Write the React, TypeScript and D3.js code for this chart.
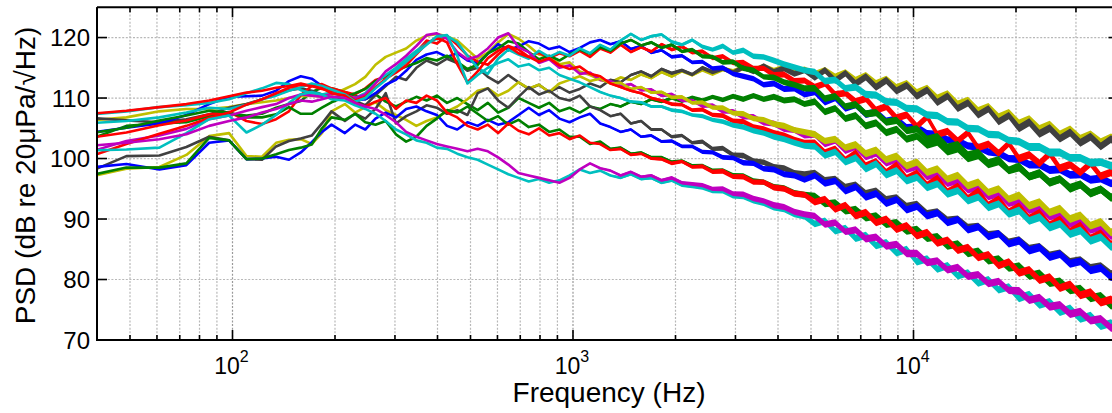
import React from 'react';
import * as d3 from 'd3';

// Frequency grid (Hz)
const freqHz = [
  36.6, 48.8, 61.0, 73.2, 85.4, 97.7, 109.9, 122.1, 134.3, 146.5,
  158.7, 170.9, 183.1, 195.3, 213.8, 229.1, 245.5, 263.0, 281.8, 302.0,
  323.6, 346.7, 371.5, 398.1, 426.6, 457.1, 489.8, 524.8, 562.3, 602.6,
  645.7, 691.8, 741.3, 794.3, 851.1, 912.0, 977.2, 1047, 1122, 1202,
  1288, 1380, 1479, 1585, 1698, 1820, 1950, 2089, 2239, 2399,
  2570, 2754, 2951, 3162, 3388, 3631, 3890, 4169, 4467, 4786,
  5129, 5495, 5888, 6310, 6761, 7244, 7762, 8318, 8913, 9550,
  10233, 10965, 11749, 12589, 13490, 14454, 15488, 16596, 17783, 19055,
  20417, 21878, 23442, 25119, 26915, 28840, 30903, 33113, 35481, 38019,
  40738,
];

// Half-width (dB) of the dense high-frequency noise band
const noiseHalfWidthDb = [
  0, 0, 0, 0, 0, 0, 0, 0, 0, 0,
  0, 0, 0, 0, 0, 0, 0, 0, 0, 0,
  0, 0, 0, 0, 0, 0, 0, 0, 0, 0,
  0, 0, 0, 0, 0, 0, 0, 0.1, 0.1, 0.15,
  0.15, 0.2, 0.2, 0.2, 0.25, 0.25, 0.3, 0.3, 0.3, 0.35,
  0.35, 0.4, 0.4, 0.45, 0.45, 0.45, 0.5, 0.5, 0.5, 0.5,
  0.55, 0.55, 0.55, 0.55, 0.6, 0.6, 0.6, 0.6, 0.6, 0.6,
  0.6, 0.6, 0.6, 0.6, 0.6, 0.6, 0.6, 0.6, 0.6, 0.6,
  0.65, 0.65, 0.65, 0.65, 0.65, 0.65, 0.65, 0.65, 0.65, 0.65,
  0.65,
];

const greenC = [
  102.8, 105.4, 105.8, 106.0, 107.0, 107.4, 107.1, 107.4, 108.4, 109.0,
  109.5, 111.0, 111.7, 111.6, 111.0, 110.4, 109.8, 110.6, 109.4, 108.6,
  109.4, 110.2, 109.6, 110.4, 109.2, 110.0, 109.0, 108.0, 109.2, 107.6,
  108.4, 110.0, 109.2, 108.4, 109.2, 107.8, 108.4, 107.6, 108.6, 108.2,
  109.0, 108.6, 109.4, 109.0, 109.8, 109.4, 110.0, 109.5, 110.1, 109.6,
  110.2, 109.7, 110.3, 109.8, 110.4, 109.8, 110.2, 109.6, 109.8, 109.0,
  109.4, 107.7, 108.3, 106.6, 107.1, 105.4, 105.9, 104.3, 104.8, 103.2,
  103.7, 102.2, 102.7, 101.1, 101.6, 100.0, 100.5, 99.0, 99.5, 98.0,
  98.5, 97.0, 97.5, 96.1, 96.6, 95.2, 95.7, 94.3, 94.9, 93.6,
  93.8,
];

const yellowA = [
  106.2, 106.8, 107.8, 108.2, 108.2, 108.5, 109.0, 109.3, 109.6, 110.0,
  110.3, 110.4, 110.2, 110.5, 111.5, 112.3, 113.5, 115.5, 116.8, 117.5,
  118.2, 119.5, 120.3, 120.6, 120.2, 119.5, 118.0, 116.5, 117.5, 119.2,
  120.6, 119.8, 118.6, 117.2, 116.8, 115.6, 115.9, 114.4, 113.8, 113.0,
  112.6, 113.4, 113.0, 113.9, 113.3, 114.3, 113.6, 114.5, 113.8, 114.7,
  114.0, 114.8, 114.4, 115.0, 114.6, 115.2, 114.5, 115.0, 114.3, 114.7,
  113.9, 114.6, 113.5, 114.2, 112.9, 113.7, 112.4, 113.1, 111.7, 112.4,
  110.9, 111.6, 110.0, 110.7, 109.0, 109.6, 107.9, 108.6, 106.9, 107.6,
  105.8, 106.5, 104.9, 105.6, 104.0, 104.8, 103.3, 104.0, 102.7, 103.5,
  102.6,
];

const greyA = [
  106.8, 106.3, 106.0, 106.5, 107.3, 108.4, 109.0, 109.8, 110.6, 111.3,
  111.6, 111.2, 110.6, 110.0, 110.3, 109.5, 108.8, 110.5, 112.0, 113.5,
  113.0, 115.0, 116.2, 115.5, 116.5, 115.8, 114.5, 115.0, 113.5, 112.5,
  113.8, 112.6, 111.5, 112.2, 111.0, 111.8, 110.9, 111.5, 112.4, 111.8,
  113.0, 112.6, 113.8, 114.4, 113.6, 114.8, 114.1, 114.6, 113.9, 115.0,
  114.3, 114.9, 114.2, 115.1, 114.4, 115.3, 114.3, 114.9, 114.0, 114.6,
  113.4, 114.6, 112.9, 114.1, 112.4, 113.5, 111.8, 112.9, 111.2, 112.1,
  110.3, 111.3, 109.3, 110.3, 108.3, 109.2, 107.2, 108.2, 106.1, 107.1,
  105.0, 106.0, 104.1, 105.0, 103.3, 104.3, 102.6, 103.6, 102.0, 103.2,
  102.0,
];

const blueA = [
  104.1, 105.1, 105.8, 107.2, 109.0, 110.2, 110.3, 110.4, 111.2, 112.8,
  113.6, 113.2, 112.0, 111.0, 110.2, 109.6, 109.8, 110.8, 112.2, 113.0,
  114.5, 116.3, 117.2, 117.6, 116.8, 117.4, 116.2, 115.8, 117.3, 118.9,
  118.0, 118.5, 119.4, 119.0, 118.1, 118.5, 117.6, 118.3, 119.2, 119.6,
  118.9, 119.4, 118.1, 118.6, 117.5, 117.9, 116.8, 117.0, 115.9, 116.0,
  114.9, 115.0, 114.0, 113.6, 113.2, 112.2, 112.4, 111.5, 111.6, 110.6,
  111.0, 109.3, 110.0, 108.3, 108.9, 107.3, 107.7, 106.2, 106.5, 105.1,
  105.2, 104.1, 104.0, 103.1, 102.9, 102.1, 101.9, 101.1, 100.9, 100.0,
  99.9, 99.0, 99.0, 98.1, 98.2, 97.3, 97.4, 96.5, 96.7, 95.9,
  96.2,
];

const redA = [
  103.3, 104.3, 105.5, 106.3, 107.3, 107.7, 106.2, 105.7, 106.5, 107.8,
  110.5, 112.0, 112.3, 111.6, 111.0, 110.6, 111.6, 113.0, 113.5, 114.6,
  116.0, 117.6, 119.5, 119.0, 120.3, 118.8, 117.0, 116.0, 115.5, 117.2,
  118.6, 118.0, 116.8, 117.5, 116.6, 117.4, 116.9, 117.8, 116.8, 118.2,
  117.5, 118.8, 117.6, 118.4, 117.7, 118.9, 118.0, 118.5, 117.5, 117.7,
  116.6, 116.9, 115.8, 115.9, 114.9, 114.9, 113.8, 113.9, 112.8, 112.9,
  111.8, 112.4, 110.6, 110.8, 109.4, 109.9, 108.0, 108.6, 106.7, 107.2,
  105.3, 106.9, 104.0, 104.5, 102.9, 104.3, 101.8, 102.4, 100.9, 102.5,
  100.0, 100.6, 99.2, 100.8, 98.4, 99.0, 97.7, 99.2, 97.1, 97.7,
  96.8,
];

const greenA = [
  104.0, 105.1, 106.3, 107.1, 107.9, 107.6, 106.8, 106.8, 107.3, 108.5,
  107.4, 107.4, 108.4, 109.3, 110.2, 110.8, 111.5, 112.8, 113.6, 114.5,
  115.2, 115.8, 116.6, 116.2, 117.0, 116.0, 114.8, 115.5, 117.4, 118.2,
  119.4, 119.0, 117.6, 116.4, 117.0, 116.2, 117.2, 118.0, 117.3, 118.4,
  117.8, 119.0, 119.6, 118.7, 119.2, 118.3, 118.8, 117.7, 118.0, 116.9,
  116.8, 115.9, 116.0, 114.9, 114.6, 113.5, 113.4, 112.6, 112.2, 111.6,
  111.6, 109.9, 110.3, 108.6, 108.9, 107.4, 107.6, 106.0, 106.3, 104.6,
  104.9, 103.2, 103.6, 101.9, 102.3, 100.6, 101.0, 99.3, 99.8, 98.1,
  98.7, 97.0, 97.6, 96.0, 96.6, 95.0, 95.7, 94.2, 94.9, 93.5,
  94.2,
];

const cyanA = [
  107.2, 107.8, 108.5, 108.8, 109.2, 109.8, 110.8, 111.6, 112.5, 112.3,
  111.3, 110.8, 110.6, 110.9, 110.2, 110.0, 110.8, 112.5, 113.8, 115.0,
  116.5, 117.8, 119.0, 119.8, 120.3, 119.2, 117.0, 115.0, 114.0, 116.5,
  118.0, 117.2, 116.5, 117.8, 116.8, 117.6, 117.0, 118.2, 117.4, 118.8,
  118.0, 119.5, 120.6, 119.6, 120.2, 120.5, 119.3, 118.8, 119.6, 118.5,
  118.0, 118.6, 117.5, 117.9, 116.9, 116.8, 116.2, 115.6, 115.1, 114.6,
  114.3, 112.8, 113.0, 111.6, 111.8, 110.6, 110.5, 109.4, 109.3, 108.3,
  108.2, 107.2, 107.1, 106.1, 106.0, 105.0, 104.9, 104.0, 103.9, 103.0,
  102.8, 101.9, 101.9, 101.0, 101.0, 100.1, 100.1, 99.3, 99.4, 98.8,
  98.9,
];

const magentaA = [
  100.8, 102.9, 103.8, 104.9, 106.5, 107.1, 107.9, 108.5, 109.0, 110.0,
  110.6, 110.4, 110.2, 110.7, 110.5, 110.0, 110.6, 112.4, 114.4, 115.6,
  117.0, 118.6, 120.4, 120.7, 119.8, 117.6, 116.4, 116.9, 118.2, 120.0,
  120.7, 118.4, 117.6, 115.8, 116.4, 115.0, 115.4, 114.0, 114.2, 113.0,
  112.8, 112.0, 112.3, 111.3, 111.4, 110.4, 110.6, 109.6, 109.6, 108.7,
  108.8, 107.8, 107.8, 106.9, 106.9, 105.9, 105.8, 104.9, 104.7, 103.8,
  104.0, 102.4, 103.0, 101.3, 102.0, 100.3, 100.9, 99.3, 99.9, 98.2,
  98.7, 97.0, 97.5, 95.9, 96.4, 94.8, 95.3, 93.7, 94.2, 92.6,
  93.1, 91.5, 92.0, 90.4, 90.9, 89.2, 89.7, 88.2, 88.7, 87.2,
  87.9,
];

const yellowB = [
  96.8, 98.3, 98.6, 100.6, 103.7, 104.2, 100.4, 100.3, 102.6, 103.1,
  103.2, 102.4, 104.2, 107.8, 109.0, 107.6, 108.5, 109.3, 108.0, 107.2,
  106.4, 105.4, 106.2, 106.8, 107.8, 108.6, 109.8, 111.2, 111.6, 110.4,
  111.2, 112.6, 111.6, 112.2, 111.0, 112.4, 113.0, 113.6, 112.8, 113.2,
  112.4, 112.5, 111.5, 111.8, 110.9, 111.0, 110.1, 110.2, 109.2, 109.3,
  108.4, 108.4, 107.5, 107.4, 106.6, 106.4, 105.7, 105.4, 104.7, 104.4,
  104.0, 102.9, 103.2, 101.8, 102.3, 100.8, 101.4, 99.8, 100.4, 98.8,
  99.4, 97.7, 98.3, 96.6, 97.2, 95.5, 96.1, 94.4, 95.0, 93.3,
  93.9, 92.2, 92.8, 91.1, 91.7, 90.0, 90.6, 88.9, 89.5, 87.8,
  88.3,
];

const redB = [
  107.3, 107.9, 108.5, 109.0, 109.6, 110.3, 110.9, 111.2, 111.7, 112.0,
  112.4, 112.0, 111.5, 111.2, 110.8, 109.6, 110.2, 111.8, 113.2, 114.2,
  115.4, 117.2, 119.0, 120.0, 119.2, 115.6, 112.6, 114.4, 116.6, 117.8,
  118.6, 117.4, 116.8, 116.0, 116.6, 115.4, 114.8, 115.2, 114.0, 113.6,
  112.4, 111.8, 111.2, 110.8, 110.0, 109.6, 109.0, 108.9, 108.0, 108.1,
  107.2, 107.1, 106.2, 106.1, 105.2, 104.9, 104.2, 103.8, 103.1, 102.6,
  102.6, 101.0, 101.6, 99.8, 100.9, 98.8, 99.5, 97.7, 98.9, 96.7,
  97.6, 95.6, 96.7, 94.5, 95.4, 93.4, 94.6, 92.3, 93.3, 91.2,
  92.1, 90.1, 91.0, 89.0, 89.9, 87.9, 88.9, 86.8, 87.6, 85.8,
  86.2,
];

const cyanB = [
  105.8, 106.2, 106.8, 107.6, 108.4, 108.2, 108.9, 109.8, 110.4, 111.2,
  111.8, 112.4, 112.0, 111.4, 110.6, 109.4, 110.0, 111.6, 113.0, 114.6,
  116.0, 117.4, 118.8, 120.2, 120.4, 117.0, 112.4, 113.8, 115.0, 115.8,
  116.4, 115.2, 115.6, 114.6, 115.0, 113.8, 113.2, 112.6, 111.8, 111.0,
  110.4, 110.0, 109.4, 109.3, 108.6, 108.6, 108.0, 107.8, 107.2, 107.0,
  106.4, 106.1, 105.5, 105.2, 104.6, 104.2, 103.6, 103.2, 102.6, 102.1,
  102.0, 100.5, 101.1, 99.4, 100.1, 98.3, 99.1, 97.3, 98.0, 96.3,
  96.9, 95.2, 95.8, 94.1, 94.7, 93.0, 93.6, 91.9, 92.5, 90.8,
  91.4, 89.7, 90.3, 88.6, 89.2, 87.5, 88.1, 86.4, 87.0, 85.4,
  85.9,
];

const greyB = [
  97.4, 100.4, 100.5, 101.9, 103.6, 103.0, 99.9, 99.8, 102.0, 102.9,
  103.3, 103.8, 105.8, 107.8, 106.2, 107.4, 106.6, 108.2, 110.8, 105.8,
  107.0, 107.8, 108.8, 108.4, 107.4, 108.0, 107.2, 110.8, 111.6, 109.6,
  108.4, 110.2, 111.8, 110.6, 111.2, 110.0, 109.6, 110.4, 108.6, 108.0,
  107.0, 107.4, 105.8, 106.2, 104.8, 104.8, 103.6, 103.8, 102.6, 102.8,
  101.6, 101.7, 100.6, 100.5, 99.6, 99.4, 98.6, 98.4, 97.6, 97.4,
  97.6, 96.4, 96.6, 95.3, 95.6, 94.2, 94.6, 93.2, 93.5, 92.1,
  92.4, 90.9, 91.2, 89.8, 90.0, 88.6, 88.8, 87.4, 87.6, 86.2,
  86.5, 85.1, 85.4, 84.0, 84.3, 82.9, 83.2, 81.9, 82.2, 80.9,
  81.2,
];

const blueB = [
  98.4, 99.1, 98.2, 98.9, 102.6, 103.0, 99.9, 100.0, 100.3, 99.8,
  101.0, 102.7, 104.4, 105.6, 104.2, 105.6, 104.8, 106.6, 107.6, 106.8,
  108.2, 108.6, 107.8, 107.2, 105.4, 104.8, 106.0, 105.4, 106.4, 105.6,
  106.0, 107.2, 108.4, 107.2, 108.0, 106.6, 106.0, 106.8, 107.4, 105.8,
  105.2, 104.4, 104.8, 103.6, 103.8, 102.8, 102.9, 102.0, 102.0, 101.1,
  101.0, 100.2, 100.1, 99.3, 99.2, 98.3, 98.2, 97.4, 97.2, 96.5,
  97.2, 95.9, 96.3, 94.6, 95.3, 93.6, 94.2, 92.6, 93.2, 91.5,
  92.1, 90.5, 91.0, 89.4, 89.9, 88.2, 88.7, 87.1, 87.6, 85.9,
  86.4, 84.8, 85.3, 83.7, 84.2, 82.6, 83.0, 81.5, 81.9, 80.4,
  80.9,
];

const greenB = [
  97.0, 98.5, 98.5, 99.2, 103.4, 103.0, 99.9, 100.0, 100.7, 101.4,
  101.8, 102.3, 105.0, 106.8, 106.4, 107.4, 106.0, 105.6, 106.2, 104.0,
  102.8, 103.6, 105.4, 106.6, 108.0, 107.6, 108.6, 107.4, 106.2, 107.0,
  105.6, 106.4, 105.2, 105.6, 104.4, 104.8, 103.6, 103.6, 102.4, 102.8,
  101.6, 101.8, 100.8, 101.0, 100.2, 100.2, 99.4, 99.6, 98.8, 98.8,
  98.0, 98.0, 97.2, 97.1, 96.3, 96.1, 95.3, 95.1, 94.3, 94.0,
  93.8, 92.5, 92.7, 91.3, 91.6, 90.2, 90.5, 89.1, 89.4, 88.0,
  88.3, 86.8, 87.1, 85.5, 85.9, 84.3, 84.7, 83.1, 83.4, 81.9,
  82.2, 80.6, 81.0, 79.4, 79.7, 78.2, 78.5, 76.9, 77.3, 75.7,
  76.1,
];

const redC = [
  100.0, 102.4, 104.1, 105.4, 106.7, 107.6, 108.9, 109.8, 110.8, 111.7,
  112.2, 112.0, 111.6, 110.8, 110.4, 109.2, 108.6, 109.4, 110.0, 108.2,
  109.6, 109.2, 110.4, 109.6, 107.6, 106.8, 105.4, 104.8, 105.6, 104.2,
  105.8, 104.6, 104.0, 105.0, 103.8, 104.2, 103.2, 103.8, 102.6, 102.4,
  101.4, 101.6, 100.6, 100.8, 100.0, 99.9, 99.2, 99.5, 98.6, 98.7,
  97.8, 97.9, 97.0, 97.0, 96.1, 96.1, 95.2, 95.0, 94.2, 94.0,
  92.8, 93.3, 91.6, 92.3, 90.5, 91.1, 89.4, 90.0, 88.3, 88.9,
  87.2, 87.8, 86.0, 86.5, 84.8, 85.3, 83.6, 84.1, 82.3, 82.9,
  81.1, 81.6, 79.9, 80.4, 78.6, 79.2, 77.4, 77.9, 76.2, 76.7,
  75.2,
];

const cyanC = [
  101.3, 101.5, 101.8, 104.2, 106.5, 107.1, 104.3, 105.6, 107.2, 109.2,
  110.6, 111.0, 110.6, 109.8, 109.6, 108.8, 108.2, 107.4, 106.2, 104.8,
  104.0, 103.0, 102.6, 101.8, 101.6, 100.8, 100.2, 99.8, 99.0, 98.2,
  97.4, 96.8, 96.2, 96.6, 96.0, 96.4, 97.2, 98.2, 97.6, 98.0,
  97.2, 96.8, 97.4, 96.6, 96.8, 96.0, 96.4, 95.6, 95.4, 95.2,
  94.6, 94.6, 93.8, 93.7, 93.0, 92.6, 91.9, 91.6, 90.8, 90.4,
  89.2, 89.7, 88.0, 88.5, 86.8, 87.3, 85.6, 86.1, 84.4, 85.0,
  82.9, 83.4, 81.7, 82.3, 80.6, 81.1, 79.4, 80.0, 78.3, 78.8,
  76.9, 77.5, 75.8, 76.3, 74.6, 75.2, 73.5, 74.0, 72.3, 72.8,
  71.2,
];

const magentaB = [
  102.0, 102.6, 103.2, 104.0, 105.4, 106.2, 106.8, 107.6, 108.2, 109.0,
  109.6, 109.4, 109.8, 110.2, 110.0, 109.2, 108.6, 108.2, 107.2, 106.0,
  104.4, 103.6, 103.0, 102.4, 102.0, 101.6, 101.2, 101.6, 101.2, 100.2,
  99.0, 97.6, 97.2, 96.8, 96.4, 96.0, 96.8, 98.2, 99.2, 98.4,
  98.0, 97.2, 97.8, 97.0, 97.2, 96.4, 96.8, 96.0, 95.8, 95.6,
  95.0, 95.0, 94.2, 94.1, 93.4, 93.0, 92.3, 92.0, 91.2, 90.8,
  90.5, 89.1, 89.4, 87.9, 88.2, 86.7, 87.0, 85.5, 85.8, 84.3,
  84.3, 82.8, 83.1, 81.6, 82.0, 80.5, 80.8, 79.3, 79.7, 78.2,
  78.1, 76.6, 77.0, 75.5, 75.8, 74.3, 74.7, 73.2, 73.5, 72.0,
  72.3,
];

const C_BLUE = '#0000FF';
const C_GREEN = '#008000';
const C_RED = '#FF0000';
const C_CYAN = '#00BFBF';
const C_MAGENTA = '#BF00BF';
const C_YELLOW = '#BFBF00';
const C_GREY = '#404040';

// Draw order: first = bottom
const seriesList: { values: number[]; color: string }[] = [
  { values: greenC, color: C_GREEN },
  { values: yellowA, color: C_YELLOW },
  { values: greyA, color: C_GREY },
  { values: blueA, color: C_BLUE },
  { values: redA, color: C_RED },
  { values: greenA, color: C_GREEN },
  { values: cyanA, color: C_CYAN },
  { values: magentaA, color: C_MAGENTA },
  { values: yellowB, color: C_YELLOW },
  { values: redB, color: C_RED },
  { values: cyanB, color: C_CYAN },
  { values: greyB, color: C_GREY },
  { values: blueB, color: C_BLUE },
  { values: greenB, color: C_GREEN },
  { values: redC, color: C_RED },
  { values: cyanC, color: C_CYAN },
  { values: magentaB, color: C_MAGENTA },
];

const yTickValues = [70, 80, 90, 100, 110, 120];
const xMajorExponents = [2, 3, 4];
const xDomain: [number, number] = [40, 40000];
const yDomain: [number, number] = [70, 125];

const FONT = "'Liberation Sans', Arial, Helvetica, sans-serif";

export default function App() {
  const W = 1112;
  const H = 413;
  const left = 97;
  const right = 1118.5;
  const top = 7.3;
  const bottom = 340;

  const x = d3.scaleLog().domain(xDomain).range([left, right]);
  const y = d3.scaleLinear().domain(yDomain).range([bottom, top]);

  const minorTicks: number[] = [];
  const majorTicks: number[] = [];
  [10, 100, 1000, 10000].forEach((dec) => {
    for (let m = 1; m <= 9; m++) {
      const f = m * dec;
      if (f >= xDomain[0] && f <= xDomain[1]) {
        if (m === 1) majorTicks.push(f);
        else minorTicks.push(f);
      }
    }
  });

  type Pt = { f: number; v: number; w: number };
  const line = d3
    .line<Pt>()
    .x((d) => x(d.f))
    .y((d) => y(d.v));
  const band = d3
    .area<Pt>()
    .defined((d) => d.w > 0)
    .x((d) => x(d.f))
    .y0((d) => y(d.v - d.w))
    .y1((d) => y(d.v + d.w));

  const gridColor = '#b8b8b8';

  return (
    <svg
      width={W}
      height={H}
      style={{ position: 'absolute', left: 0, top: 0, background: '#fff' }}
      fontFamily={FONT}
    >
      <defs>
        <clipPath id="plotClip">
          <rect x={left} y={top} width={right - left} height={bottom - top} />
        </clipPath>
      </defs>
      <rect x={0} y={0} width={W} height={H} fill="#fff" />

      {/* grid */}
      <g stroke={gridColor} strokeWidth={1.2} strokeDasharray="2,1.6" fill="none">
        {minorTicks.map((f) => (
          <line key={'vg' + f} x1={x(f)} x2={x(f)} y1={top} y2={bottom} />
        ))}
        {majorTicks.map((f) => (
          <line key={'vgM' + f} x1={x(f)} x2={x(f)} y1={top} y2={bottom} stroke="#999" />
        ))}
        {yTickValues
          .filter((v) => v > yDomain[0])
          .map((v) => (
            <line key={'hg' + v} x1={left} x2={right} y1={y(v)} y2={y(v)} />
          ))}
      </g>

      {/* data lines */}
      <g clipPath="url(#plotClip)">
        {seriesList.map((s, i) => {
          const n = Math.min(s.values.length, freqHz.length, noiseHalfWidthDb.length);
          const pts: Pt[] = [];
          for (let k = 0; k < n; k++) pts.push({ f: freqHz[k], v: s.values[k], w: noiseHalfWidthDb[k] });
          return (
            <g key={i}>
              <path d={band(pts) || ''} fill={s.color} stroke="none" />
              <path
                d={line(pts) || ''}
                stroke={s.color}
                fill="none"
                strokeWidth={2.6}
                strokeLinejoin="round"
                strokeLinecap="round"
              />
            </g>
          );
        })}
      </g>

      {/* axes box */}
      <g stroke="#000" strokeWidth={2} fill="none">
        <line x1={left} x2={right} y1={bottom} y2={bottom} />
        <line x1={left} x2={right} y1={top} y2={top} />
        <line x1={left} x2={left} y1={top} y2={bottom + 1} />
        <line x1={right} x2={right} y1={top} y2={bottom} />
      </g>

      {/* ticks */}
      <g stroke="#000" strokeWidth={1.6}>
        {minorTicks.map((f) => (
          <g key={'mt' + f}>
            <line x1={x(f)} x2={x(f)} y1={bottom} y2={bottom - 5} />
            <line x1={x(f)} x2={x(f)} y1={top} y2={top + 5} />
          </g>
        ))}
        {majorTicks.map((f) => (
          <g key={'Mt' + f}>
            <line x1={x(f)} x2={x(f)} y1={bottom} y2={bottom - 10} />
            <line x1={x(f)} x2={x(f)} y1={top} y2={top + 10} />
          </g>
        ))}
        {yTickValues.map((v) => (
          <g key={'yt' + v}>
            <line x1={left} x2={left + 10} y1={y(v)} y2={y(v)} />
            <line x1={right} x2={right - 10} y1={y(v)} y2={y(v)} />
          </g>
        ))}
      </g>

      {/* y tick labels */}
      <g fontSize={24} fill="#000" textAnchor="end">
        {yTickValues.map((v) => (
          <text key={'yl' + v} x={90} y={y(v) + 8.5}>
            {v}
          </text>
        ))}
      </g>

      {/* x tick labels */}
      <g fill="#000" textAnchor="middle">
        {xMajorExponents.map((e) => (
          <text key={'xl' + e} x={x(Math.pow(10, e)) - 1} y={374} fontSize={23}>
            <tspan>10</tspan>
            <tspan fontSize={16} dy={-12}>
              {e}
            </tspan>
          </text>
        ))}
      </g>

      {/* axis labels */}
      <text x={609} y={402} fontSize={28} textAnchor="middle" fill="#000">
        Frequency (Hz)
      </text>
      <text
        transform={`translate(35,175.5) rotate(-90)`}
        fontSize={28}
        textAnchor="middle"
        fill="#000"
      >
        PSD (dB re 20μPa/√Hz)
      </text>
    </svg>
  );
}
